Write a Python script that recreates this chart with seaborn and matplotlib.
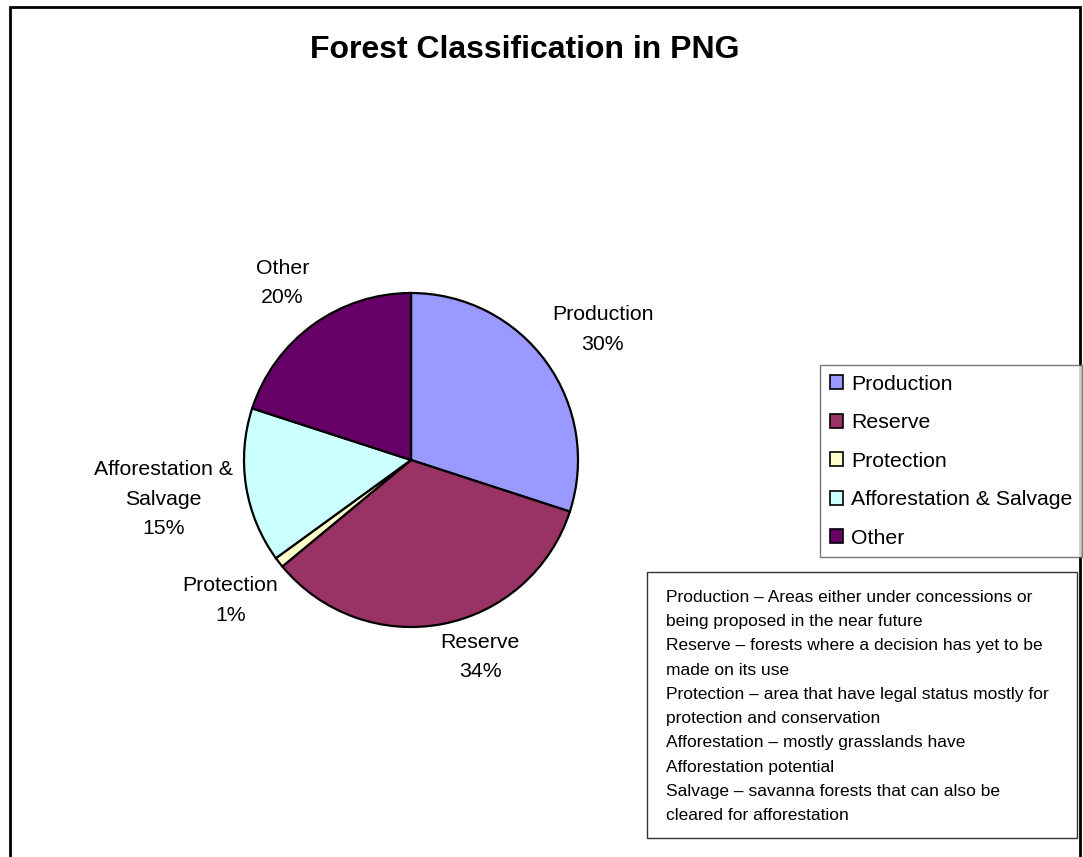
import numpy as np
import matplotlib
matplotlib.use("Agg")
import matplotlib.pyplot as plt
import seaborn as sns
from matplotlib.patches import Rectangle

# Chart data
categories = ["Production", "Reserve", "Protection", "Afforestation & Salvage", "Other"]
pie_labels = ["Production", "Reserve", "Protection", "Afforestation &\nSalvage", "Other"]
shares = [30, 34, 1, 15, 20]
colors = ["#9999FF", "#993366", "#FFFFCC", "#CCFFFF", "#660066"]
label_radius = [1.39, 1.25, 1.37, 1.50, 1.31]
label_shift = [-1.7, 8.5, 0, 0, 0]   # degrees

notes = ("Production \u2013 Areas either under concessions or\n"
         "being proposed in the near future\n"
         "Reserve \u2013 forests where a decision has yet to be\n"
         "made on its use\n"
         "Protection \u2013 area that have legal status mostly for\n"
         "protection and conservation\n"
         "Afforestation \u2013 mostly grasslands have\n"
         "Afforestation potential\n"
         "Salvage \u2013 savanna forests that can also be\n"
         "cleared for afforestation")

sns.set_theme(style="white")
plt.rcParams['font.family'] = ['Liberation Sans', 'DejaVu Sans']
plt.rcParams['text.color'] = 'black'

W, H = 1083, 857
fig = plt.figure(figsize=(W / 100, H / 100), dpi=100)

# pie axes: centre (411, 460) px, radius 167 px
cx, cy, r = 411, 460, 167
ax = fig.add_axes([(cx - r) / W, 1 - (cy + r) / H, 2 * r / W, 2 * r / H])
wedges, _ = ax.pie(shares, colors=colors, startangle=90, counterclock=False,
                   wedgeprops=dict(edgecolor="black", linewidth=1.6))
ax.set_xlim(-1, 1)
ax.set_ylim(-1, 1)
ax.set_aspect("equal")

total = sum(shares)
for w, lab, val, lr, sh in zip(wedges, pie_labels, shares, label_radius, label_shift):
    mid = np.deg2rad((w.theta1 + w.theta2) / 2 + sh)
    ax.text(lr * np.cos(mid), lr * np.sin(mid), f"{lab}\n{round(100 * val / total)}%",
            ha="center", va="center", fontsize=15.3, linespacing=1.72, clip_on=False)

fig.text(525 / W, 1 - 50 / H, "Forest Classification in PNG", ha="center", va="center",
         fontsize=23, fontweight="bold")

# legend
handles = [Rectangle((0, 0), 1, 1, facecolor=c, edgecolor="black", linewidth=1.2) for c in colors]
leg = fig.legend(handles, categories, loc="upper left", bbox_to_anchor=(820 / W, 1 - 365 / H),
                 fontsize=15.3, frameon=True, fancybox=False, handlelength=0.65, handleheight=0.65,
                 handletextpad=0.35, labelspacing=0.92, borderpad=0.45, borderaxespad=0)
leg.get_frame().set_edgecolor("#555555")
leg.get_frame().set_linewidth(1.0)

# notes box
fig.add_artist(Rectangle((647 / W, 1 - 838 / H), (1077 - 647) / W, (838 - 572) / H,
                         transform=fig.transFigure, facecolor="white", edgecolor="#333333",
                         linewidth=1.0))
fig.text(666 / W, 1 - 590 / H, notes, ha="left", va="top", fontsize=12.5, linespacing=1.77)

# outer frame
fig.add_artist(Rectangle((10 / W, -0.05), (1080 - 10) / W, 1.05 - 7 / H, transform=fig.transFigure,
                         fill=False, edgecolor="black", linewidth=2))

fig.savefig("out.png", dpi=100, facecolor="white")
